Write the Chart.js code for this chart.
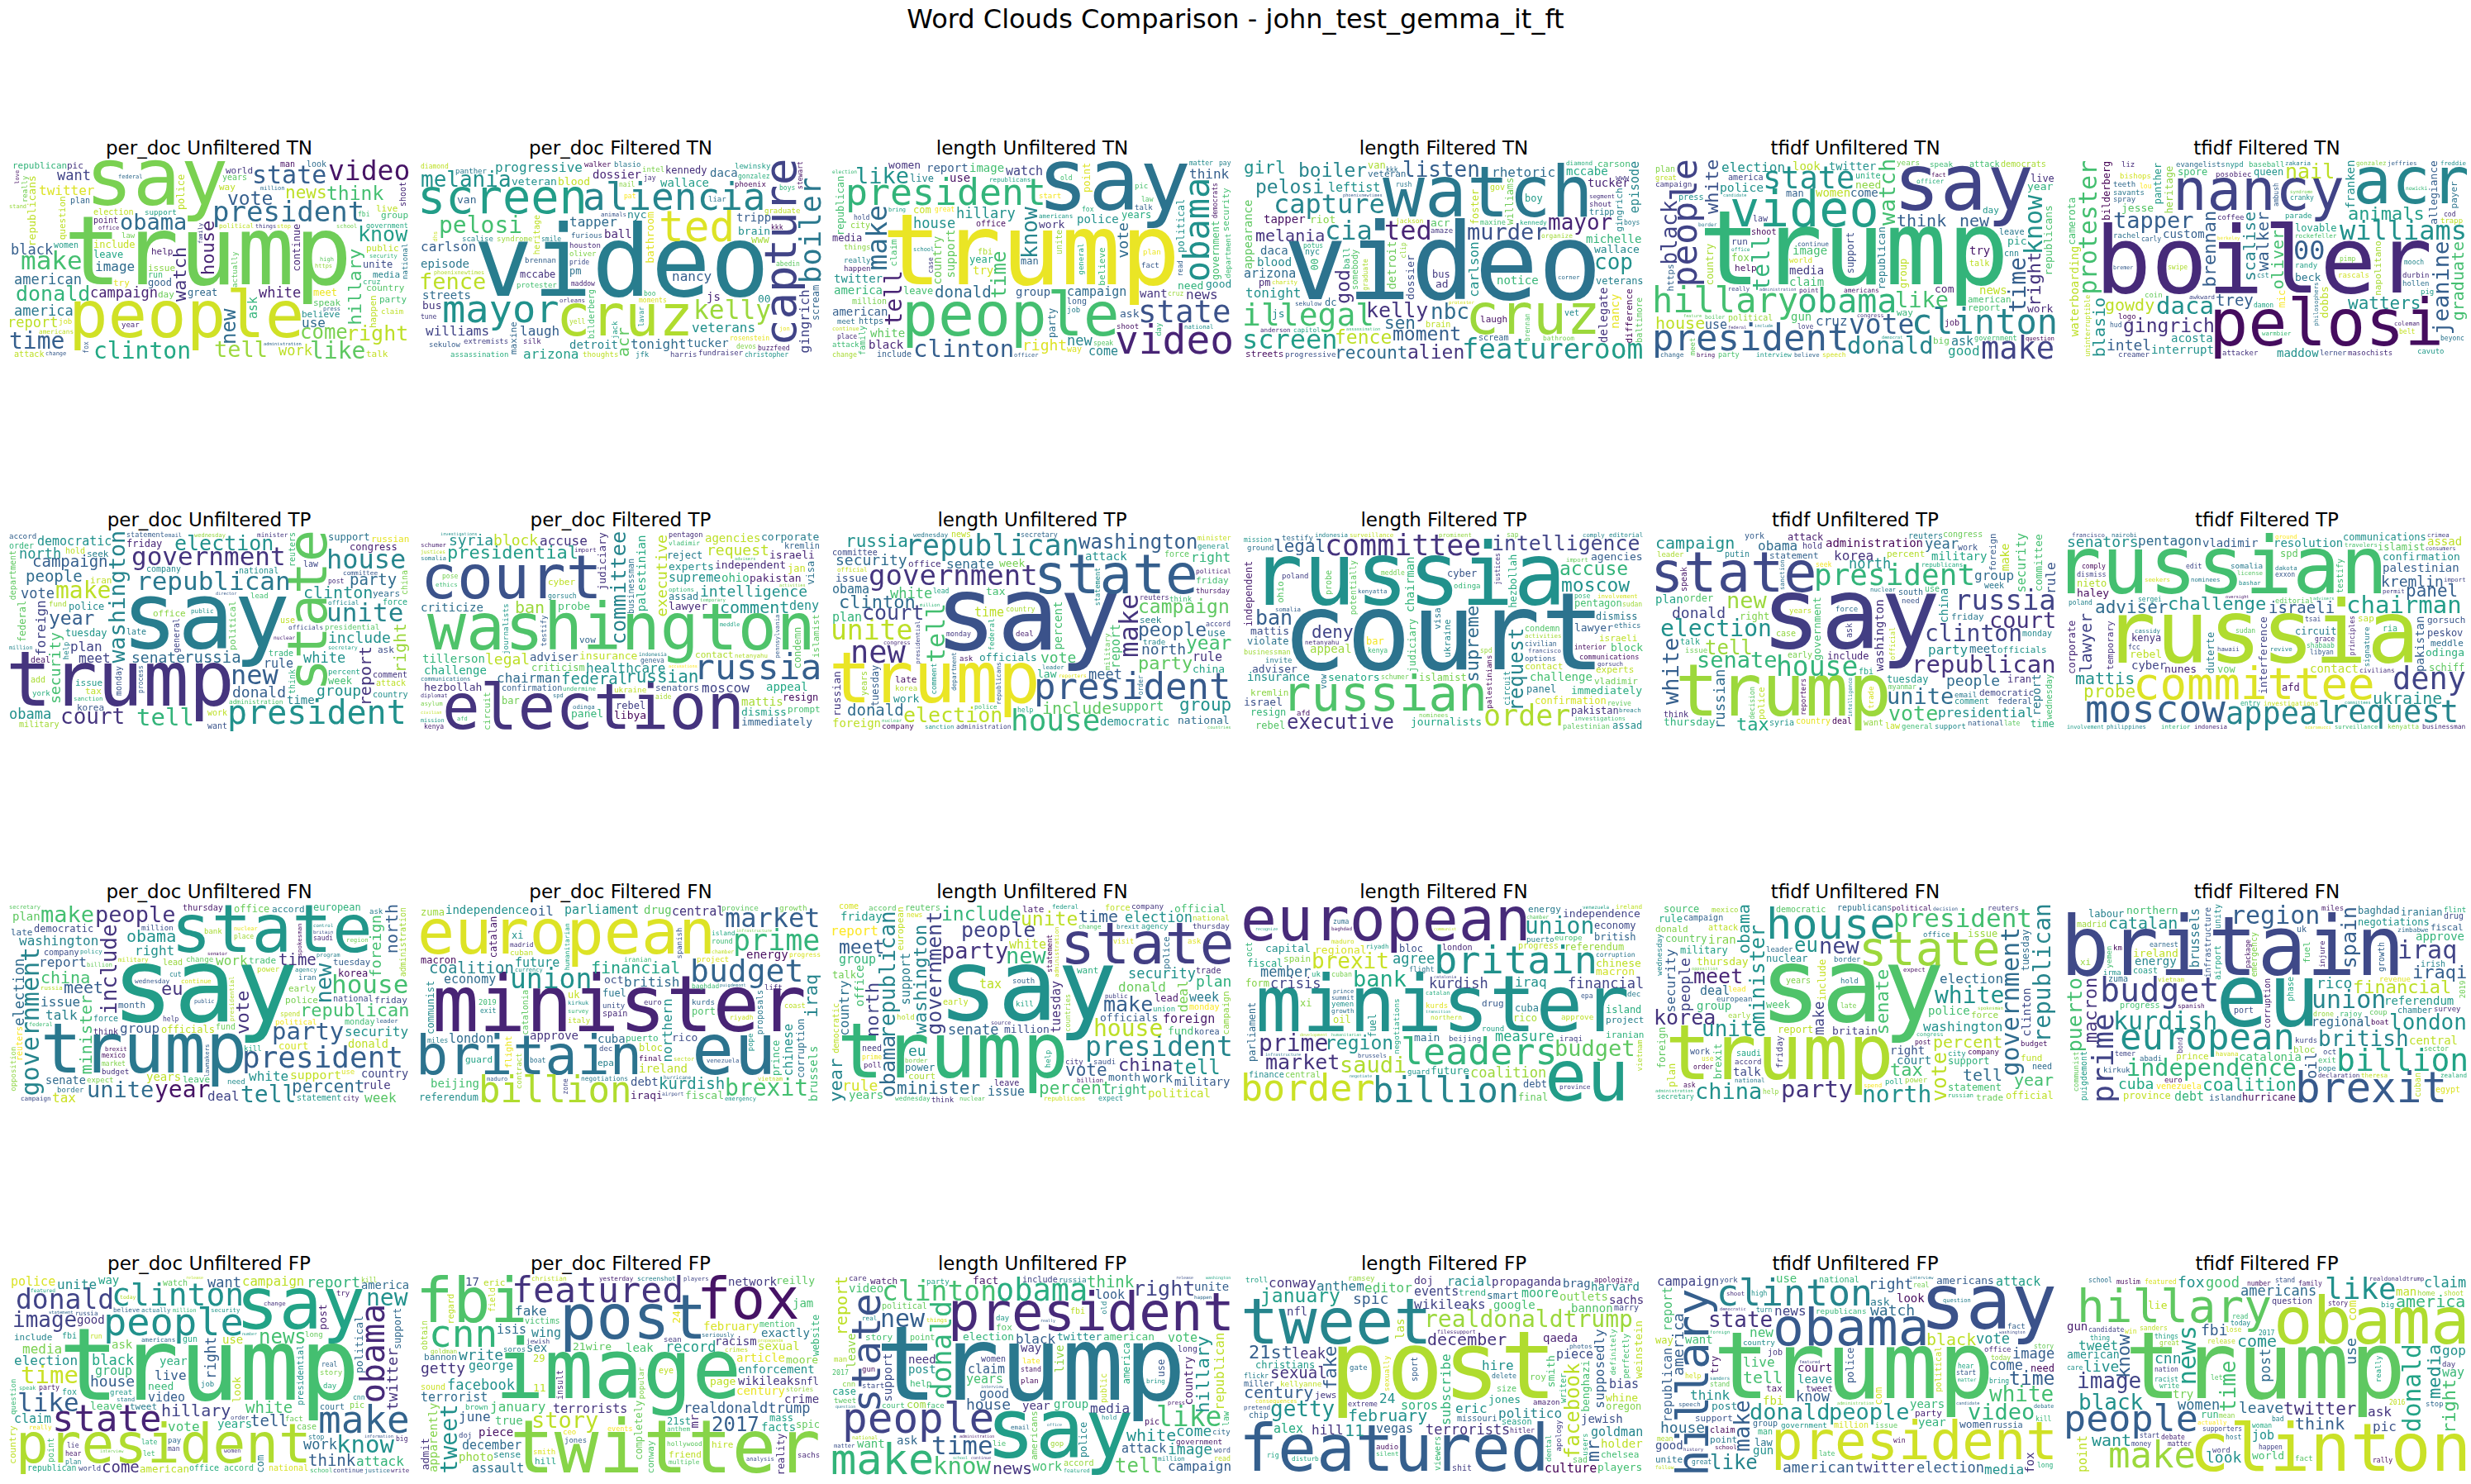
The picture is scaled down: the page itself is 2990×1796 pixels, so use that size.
<!DOCTYPE html>
<html lang="en">
<head>
<meta charset="UTF-8">
<title>Word Clouds Comparison - john_test_gemma_it_ft</title>
<script src="https://cdn.jsdelivr.net/npm/chart.js"></script>
<style>
    body {
        margin: 0;
        background: #ffffff;
        width: 2990px;
        height: 1796px;
        position: relative;
        overflow: hidden;
        font-family: "DejaVu Sans", sans-serif;
    }
    .suptitle {
        position: absolute;
        left: 0;
        top: 5px;
        width: 2990px;
        text-align: center;
        font-size: 32px;
        line-height: 36px;
        color: #000;
    }
    .panel-title {
        position: absolute;
        text-align: center;
        font-size: 23px;
        line-height: 26px;
        color: #000;
        white-space: nowrap;
    }
    .panel { position: absolute; }
</style>
</head>
<body>
<div class="suptitle">Word Clouds Comparison - john_test_gemma_it_ft</div>
<div id="grid"></div>
<script>
// ---- word weights (bigger = more frequent) ----

// per_doc / TN
const words_pdU_TN = ['trump','say','people','president','video','make','state','clinton','like','time',
    'obama','tell','right','donald','know','come','new','vote','think','hillary',
    'house','watch','news','campaign','report','white','american','black','america','want',
    'work','twitter','image','use','ask','republicans','continue','police','happen','question',
    'meet','good','include','unite','leave','great','believe','speak','issue','group',
    'women','years','try','live','public','talk','pic','help','world','republican',
    'country','day','way','media','party','election','attack','government','point','americans',
    'support','political','plan','man','look','run','cruz','job','law','claim',
    'shoot','national','really','actually','year','fbi','fox','family','love','school',
    'administration','things','security','federal','million','change','stand','office','https','stop',
    'high','press'];
const weights_pdU_TN = [116,96,79,34,33,31,30,28,28,28, 27,27,25,25,25,24,24,23,23,22,
    22,22,21,17,17,17,17,17,17,17, 17,16,16,16,15,13,12,12,11,11, 12,12,12,12,12,12,11,11,11,11,
    10,10,11,11,11,11,11,11,11,11, 11,11,11,11,11,11,11,10,10,10, 10,10,10,10,10,10,9,9,9,9,
    10,9,9,9,9,8,8,7,7,7, 7,7,7,7,7,7,7,7,7,7, 7,7];

const words_pdF_TN = ['video','cruz','screen','capture','aliencia','ted','mayor','boiler','kelly','pelosi',
    'fence','melania','acr','tonight','progressive','arizona','veterans','carlson','tapper','nancy',
    'williams','gingrich','laugh','episode','streets','veteran','tucker','dossier','ball','daca',
    'wallace','bathroom','brain','blood','bus','van','tripp','js','detroit','mccabe',
    'kennedy','scream','nyc','00','pm','www','maxine','heritage','bilderberg','jack',
    'intel','liar','harris','phoenix','assassination','thoughts','protester','walker','furious','diamond',
    'panther','tune','moments','extremists','syndrome','graduate','devos','jfk','houston','blasio',
    'lewinsky','oliver','brennan','scalise','fundraiser','silk','sekulow','pat','smile','yell',
    'rosenstein','christopher','phoenixnewtimes','abedin','gonzalez','boo','nail','kkk','pride','buzzfeed',
    'jay','orleans','boys','maddow','animals','lavar','stewart','jon','dhs'];
const weights_pdF_TN = [119,69,57,54,50,51,47,42,34,28, 27,26,20,16,16,16,16,16,16,16,
    16,16,16,14,14,13,14,14,14,14, 14,13,13,13,13,13,14,14,14,12, 12,12,13,13,12,12,11,10,10,9,
    9,9,9,9,9,9,9,9,9,8, 9,8,8,9,9,9,8,9,9,9, 9,9,9,9,9,9,9,8,8,8,
    8,8,8,8,8,8,8,8,8,8, 8,8,8,8,8,8,8,7,7];

const words_lnU_TN = ['trump','say','people','president','state','video','obama','make','tell','clinton',
    'like','know','time','donald','right','house','new','hillary','vote','campaign',
    'news','think','watch','come','image','women','want','group','report','white',
    'twitter','police','try','use','black','american','america','leave','live','work',
    'media','years','support','republican','security','point','government','political','country','claim',
    'believe','good','need','ask','com','party','year','man','long','office',
    'fbi','city','https','family','include','million','unite','talk','attack','plan',
    'fact','department','republicans','way','things','job','day','pic','happen','really',
    'democrats','speak','shoot','case','americans','matter','national','law','fox','start',
    'hold','place','read','continue','election','general','cruz','old','great','meet',
    'change','pay','bring','officer','school'];
const weights_lnU_TN = [120,103,73,53,48,52,42,33,28,29, 27,26,24,19,18,17,17,17,18,15,
    16,16,15,15,14,13,14,14,14,14, 14,14,14,14,14,14,14,12,12,13, 12,12,14,12,11,12,12,12,14,11,
    11,13,13,13,12,12,12,12,10,10, 10,10,10,10,10,10,10,9,9,9, 9,9,9,10,9,9,9,9,9,9,
    8,8,9,8,9,8,8,8,8,9, 8,8,8,8,8,9,8,8,8,9, 9,8,7,7,7];

const words_lnF_TN = ['video','watch','cruz','illegal','feature','capture','room','screen','ted','cia',
    'murder','listen','nbc','mayor','kelly','cop','fence','moment','pelosi','alien',
    'boiler','god','recount','girl','sen','melania','carlson','tonight','rhetoric','arizona',
    'leftist','episode','appearance','michelle','tapper','blood','daca','mccabe','tucker','delegate',
    'detroit','nancy','notice','wallace','veterans','progressive','dossier','ad','js','acr',
    'riot','baltimore','difference','williams','gingrich','somebody','foster','veteran','streets','dc',
    'boy','pm','laugh','00','organize','bus','van','jackson','carson','brain',
    'ball','bathroom','scream','tripp','maxine','kennedy','vet','gov','capitol','nyc',
    'www','amaze','shout','sekulow','diamond','anderson','potus','charity','protester','phoenixnewtimes',
    'kkk','rush','clip','graduate','brennan','segment','assassination','boys','corner'];
const weights_lnF_TN = [128,100,68,38,34,32,33,32,32,32, 27,26,26,26,25,26,23,23,23,23,
    23,23,21,21,21,20,16,16,16,15, 15,15,14,14,14,14,14,14,14,14, 14,14,14,13,13,13,13,13,13,13,
    13,12,13,13,12,12,12,12,12,12, 12,12,12,12,11,12,12,11,12,11, 11,11,11,11,11,10,10,10,10,10,
    9,9,9,9,9,9,8,8,8,8, 8,8,8,8,8,8,8,8,8];

const words_tfU_TN = ['trump','say','video','president','hillary','people','clinton','obama','state','make',
    'donald','vote','know','tell','time','like','watch','black','right','white',
    'think','house','new','election','cruz','good','twitter','police','ask','republican',
    'republicans','image','political','try','claim','media','use','american','news','women',
    'campaign','gun','look','come','america','man','country','speak','democrats','shoot',
    'report','attack','work','com','pic','need','year','live','support','unite',
    'press','officer','help','leave','government','world','group','talk','continue','years',
    'big','way','run','really','day','point','plan','believe','great','https',
    'interview','change','party','question','law','job','cnn','fox','meet','speech',
    'americans','democrat','boiler','candidate','border','office','national','love','feature','administration',
    'include','federal','congress','fact','bring','million','actually'];
const weights_tfU_TN = [125,94,60,44,42,43,42,40,37,37, 29,33,30,28,28,27,27,26,22,22,
    20,20,20,16,16,16,16,16,15,15, 14,14,14,14,14,14,15,14,14,14, 14,14,14,14,13,12,12,12,12,12,
    13,13,13,13,13,13,13,13,12,12, 12,12,12,12,12,12,12,12,12,11, 11,11,11,12,11,11,10,11,11,11,
    11,11,11,11,10,10,10,12,9,12, 12,8,8,8,8,8,8,8,8,8, 8,8,8,8,8,8,8];

const words_tfF_TN = ['boiler','pelosi','acr','nancy','jeanine','williams','protester','daca','00','tapper',
    'nail','gingrich','animals','brennan','watters','oliver','graduate','gowdy','walker','scalise',
    'blasio','trey','intel','acosta','waterboarding','allegiance','franken','interrupt','custom','maddow',
    'dobbs','beck','jesse','bilderberg','napolitano','heritage','camerota','mic','panther','queen',
    'lovable','spore','payer','cavuto','pig','logo','parade','randy','coffee','attacker',
    'baseball','lerner','rachel','spray','liz','rascals','savants','masochists','evangelists','rockefeller',
    'coin','teeth','bishops','posobiec','hollen','nypd','trapp','creamer','durbin','gonzalez',
    'uninterruptible','damon','lou','mooch','beyonc','cod','coleman','awkward','hud','cranky',
    'carly','zakaria','belt','cst','swipe','jeffries','freddie','warmbier','syndrome','berkeley',
    'nowicki','bremer','pimp','philosophers','ambush'];
const weights_tfF_TN = [113,101,78,69,27,32,30,29,32,27, 25,23,22,22,21,20,20,20,20,20,
    20,19,18,14,14,14,14,14,14,14, 13,13,13,13,12,12,12,12,12,12, 12,12,11,9,9,9,9,9,9,9,
    9,9,9,9,9,9,9,9,9,9, 9,9,9,9,9,9,9,9,9,9, 9,8,8,8,8,8,8,8,8,8,
    8,8,8,8,8,8,8,8,8,8, 8,8,8,8,8];

// per_doc / TP
const words_pdU_TP = ['say','trump','state','president','house','new','unite','republican','government','tell',
    'washington','make','court','election','year','clinton','report','right','people','russia',
    'party','campaign','include','security','senate','group','donald','north','white','obama',
    'vote','foreign','meet','plan','rule','democratic','time','tuesday','support','police',
    'week','congress','friday','federal','military','office','iran','issue','korea','seek',
    'political','russian','years','country','ask','tax','company','presidential','national','statement',
    'comment','officials','want','department','reuters','china','minister','late','order','add',
    'work','percent','administration','committee','trade','attack','official','secretary','deal','accord',
    'force','monday','general','hold','law','public','help','york','lead','fund',
    'wednesday','think','use','sanction','process','million','nuclear','director','post','email'];
const weights_pdU_TP = [113,92,65,40,32,32,31,31,31,29, 29,28,26,25,23,20,20,20,19,19,
    19,19,18,18,18,18,18,17,17,17, 17,16,16,16,15,15,14,12,12,12, 12,12,12,12,11,11,11,11,11,11,
    11,11,11,11,11,11,10,10,10,10, 10,10,10,10,10,10,10,10,10,10, 10,10,10,10,10,10,10,10,10,10,
    10,10,10,10,10,9,9,9,9,9, 9,10,10,8,8,8,8,8,8,7];

const words_pdF_TP = ['washington','election','court','russia','committee','presidential','russian','comment','executive','ban',
    'federal','intelligence','syria','request','block','legal','chairman','accuse','moscow','healthcare',
    'deny','supreme','tillerson','challenge','appeal','mattis','criticize','palestinian','ohio','experts',
    'independent','insurance','panel','dismiss','agencies','judiciary','adviser','immediately','hezbollah','pakistan',
    'corporate','criticism','libya','probe','israeli','lawyer','confirmation','senators','reject','contact',
    'rebel','resign','kremlin','bar','vladimir','jan','journalists','condemn','businessman','visa',
    'ukraine','pentagon','assad','islamist','circuit','vow','cyber','prompt','communications','testify',
    'gorsuch','netanyahu','geneva','schumer','options','undermine','activities','accusations','investigations','diplomat',
    'indonesia','somalia','kenya','asylum','aide','pose','odinga','justices','temporary','mission',
    'import','ethics','civilian','meddle','advisers','pennsylvania','spd','afd'];
const weights_pdF_TP = [78,76,73,43,30,22,21,20,20,20, 19,18,18,18,18,18,16,16,16,16,
    15,15,14,14,14,14,14,14,14,13, 13,13,13,13,14,13,14,13,13,13, 13,13,13,13,13,13,12,12,12,12,
    12,12,12,12,12,12,12,12,12,12, 12,12,12,11,11,11,11,11,10,9, 9,8,8,8,8,8,8,8,8,8,
    8,8,8,8,8,8,8,8,8,8, 8,8,8,8,8,8,7,7];

const words_lnU_TP = ['say','trump','state','president','new','house','republican','government','unite','make',
    'tell','election','washington','court','campaign','people','clinton','party','year','russia',
    'group','include','donald','security','north','vote','meet','white','senate','right',
    'plan','time','support','rule','obama','report','foreign','percent','attack','democratic',
    'officials','russian','issue','week','national','presidential','military','tuesday','china','tax',
    'administration','law','work','committee','statement','use','thursday','friday','political','late',
    'office','seek','federal','general','company','news','minister','country','force','reuters',
    'wednesday','republicans','department','years','official','monday','korea','deal','trade','think',
    'comment','accord','ask','police','secretary','sanction','reporters','help','leader','intelligence',
    'countries','nuclear','congress','lead','million','order'];
const weights_lnU_TP = [125,85,66,44,37,36,35,34,33,32, 30,25,24,25,23,23,22,22,23,21,
    21,20,19,18,18,18,17,17,16,16, 15,15,15,15,15,15,14,14,14,14, 14,13,13,13,13,13,12,13,13,13,
    13,13,13,13,12,12,11,11,11,11, 11,11,11,10,10,10,10,10,10,10, 10,10,10,10,9,9,9,9,9,9,
    9,9,9,9,9,8,8,8,8,8, 8,8,8,8,8,8];

const words_lnF_TP = ['court','russia','russian','committee','order','intelligence','executive','accuse','moscow','ban',
    'request','supreme','legal','deny','challenge','insurance','chairman','appeal','agencies','lawyer',
    'mattis','israel','immediately','journalists','adviser','senators','block','confirmation','assad','pentagon',
    'panel','rebel','pakistan','cyber','violate','resign','bar','communications','dismiss','islamist',
    'palestinian','hezbollah','independent','judiciary','businessman','kremlin','vladimir','israeli','experts','contact',
    'condemn','visa','ukraine','ohio','circuit','vow','potentially','probe','testify','invite',
    'poland','ethics','netanyahu','editorial','palestinians','ground','afd','odinga','options','schumer',
    'involvement','investigations','activities','civilian','revive','indonesia','kenya','mission','sap','spd',
    'interior','somalia','meddle','francisco','nominees','prominent','comply','breach','surveillance','gorsuch',
    'kenyatta','sudan','import','pose','justices'];
const weights_lnF_TP = [130,125,59,38,35,27,24,23,23,25, 24,22,21,21,14,14,14,14,13,13,
    13,13,13,13,13,13,13,12,12,12, 12,12,12,12,12,12,12,12,12,12, 12,12,12,12,11,11,11,11,11,11,
    11,11,11,11,10,10,10,10,9,9, 9,9,9,9,9,9,9,9,9,8, 8,8,8,8,8,8,8,8,8,8,
    8,8,8,8,8,8,8,8,8,8, 8,8,8,8,8];

const words_tfU_TP = ['say','trump','state','president','russia','house','republican','clinton','election','senate',
    'unite','court','new','white','washington','vote','government','russian','tell','tax',
    'campaign','donald','people','north','year','korea','obama','presidential','party','group',
    'rule','security','plan','report','committee','china','meet','administration','military','foreign',
    'make','attack','thursday','right','order','time','tuesday','include','iran','police',
    'wednesday','officials','percent','friday','statement','democratic','early','work','south','federal',
    'putin','syria','monday','reuters','country','think','congress','week','talk','deal',
    'case','hold','want','use','fbi','comment','ask','speak','york','law',
    'leader','trade','official','reporters','decision','sanction','intelligence','need','issue','years',
    'general','support','national','force','republicans','email','myanmar','nuclear','late','seek'];
const weights_tfU_TP = [120,87,67,36,34,33,29,28,28,27, 27,27,27,27,26,25,25,24,24,22,
    20,18,18,17,17,16,16,16,16,16, 16,15,14,14,14,14,14,14,14,14, 14,12,13,12,12,12,12,12,12,11,
    11,11,11,11,11,11,10,10,10,10, 10,10,10,10,10,10,10,10,10,10, 10,10,10,10,10,10,10,10,10,10,
    9,9,9,9,9,9,10,9,9,9, 9,9,9,9,9,9,8,8,8,8];

const words_tfF_TP = ['russia','russian','committee','moscow','appeal','request','deny','chairman','challenge','adviser',
    'probe','panel','mattis','ukraine','israeli','lawyer','senators','kremlin','pentagon','assad',
    'vladimir','cyber','palestinian','contact','pakistan','resolution','interference','confirmation','communications','gorsuch',
    'odinga','islamist','rebel','nunes','circuit','haley','corporate','duterte','editorial','schiff',
    'peskov','kenya','vow','meddle','nieto','spd','afd','civilians','temporary','businessman',
    'philippines','investigations','sap','kenyatta','somalia','surveillance','dismiss','testify','ria','signature',
    'edit','sergei','libyan','tsai','comply','shabaab','grace','entry','indonesia','poland',
    'sudan','seekers','nominees','interior','dakota','crimea','francisco','exxon','revive','travelers',
    'bashar','nairobi','license','cassidy','ground','involvement','permit','hawaii','committees','palestinians',
    'oversight','scaramucci','principles','import','consumers','advisers','civilian','fcc'];
const weights_tfF_TP = [106,96,54,47,37,37,37,29,22,21, 21,21,20,20,19,20,18,18,16,14,
    14,14,14,14,14,14,13,13,13,13, 13,13,13,13,13,13,12,12,12,12, 12,12,12,12,12,12,12,12,11,11,
    11,11,11,11,11,11,10,10,10,9, 8,8,8,8,8,8,8,8,8,8, 8,8,8,8,8,8,8,8,8,8,
    8,8,8,8,8,8,8,8,8,8, 8,8,8,8,8,8,8,8];

// per_doc / FN
const words_pdU_FN = ['say','trump','state','president','house','government','party','tell','unite','people',
    'year','new','make','include','eu','republican','vote','percent','meet','obama',
    'minister','china','north','time','foreign','election','washington','right','security','white',
    'report','week','tax','support','issue','deal','country','talk','group','work',
    'senate','donald','tuesday','years','plan','rule','democratic','police','office','friday',
    'korea','officials','european','court','thursday','monday','early','political','company','month',
    'late','trade','leave','national','reuters','administration','statement','change','fund','lead',
    'million','wednesday','accord','force','think','budget','expect','bank','continue','opposition',
    'presidential','border','campaign','military','kill','ask','use','need','iran','secretary',
    'mexico','market','international','leader','spokesman','lawmakers','power','spend','place','cut',
    'billion','agency','help','federal','nuclear','program','policy','russia','brexit','region',
    'saudi','britain','senator','control','public','city'];
const weights_pdU_FN = [125,83,81,36,31,30,29,28,27,27, 28,27,27,26,22,22,22,21,20,20,
    20,20,20,19,18,17,16,16,16,16, 16,16,16,16,16,16,16,16,16,16, 16,16,15,14,14,14,12,12,12,12,
    12,12,12,12,12,11,11,11,11,11, 11,11,11,11,10,10,10,10,10,10, 10,10,11,10,10,10,9,9,9,9,
    9,9,9,9,9,9,9,9,9,9, 8,8,8,8,8,8,9,8,8,8, 8,8,8,8,8,8,8,8,8,8, 8,8,8,8,8,8];

const words_pdF_FN = ['minister','eu','european','britain','billion','budget','prime','union','market','brexit',
    'iraq','financial','coalition','kurdish','british','economy','chinese','london','northern','oil',
    'central','parliament','future','independence','approve','beijing','cuba','ireland','drug','iraqi',
    'corruption','brussels','debt','fiscal','referendum','energy','province','puerto','macron','rico',
    'oct','guard','spain','project','baghdad','growth','prince','negotiations','communist','catalan',
    'humanitarian','catalonia','cuban','island','uk','final','iranian','riyadh','kurds','venezuela',
    'zuma','progress','xi','port','fuel','bloc','flight','hurricane','madrid','coast',
    'round','epa','infrastructure','miles','proposals','vietnam','emergency','contract','survey','maduro',
    'chamber','italy','euro','unity','kirkuk','sector','lift','currency','dec','spanish',
    'pope','exit','boat','airport','puigdemont','zone','2019'];
const weights_pdF_FN = [94,85,75,65,52,38,35,33,32,28, 22,20,19,19,16,15,15,15,16,16,
    15,15,15,14,14,14,14,14,14,14, 13,14,14,13,13,14,13,13,13,13, 13,13,13,13,13,13,12,12,12,12,
    12,12,12,12,12,12,12,12,12,12, 12,12,12,12,13,12,11,11,11,11, 11,11,10,10,10,10,9,9,9,9,
    9,9,9,9,9,9,9,9,9,9, 9,8,8,8,8,8,9];

const words_lnU_FN = ['say','trump','state','president','government','republican','party','house','people','make',
    'new','tell','obama','meet','include','unite','year','washington','north','vote',
    'china','minister','percent','time','eu','rule','plan','election','security','senate',
    'donald','report','deal','country','week','issue','group','work','foreign','tax',
    'right','white','years','tuesday','support','military','friday','political','office','month',
    'officials','fund','official','million','administration','campaign','european','democratic','thursday','lead',
    'monday','national','power','force','korea','trade','early','wednesday','reuters','court',
    'talk','want','company','leave','accord','late','police','statement','countries','come',
    'need','help','agency','expect','poll','border','south','public','brexit','union',
    'saudi','federal','billion','hold','kill','ask','think','visit','change','republicans',
    'city','nuclear','prime','news','source'];
const weights_lnU_FN = [120,93,70,33,32,28,27,28,25,25, 27,24,25,23,23,23,22,22,22,21,
    22,21,21,20,18,18,18,17,17,17, 16,16,16,16,15,15,15,15,15,15, 15,15,14,15,15,14,14,14,14,13,
    13,13,13,13,12,12,12,12,12,12, 12,12,12,12,12,12,12,12,12,12, 12,11,11,11,11,11,11,11,10,10,
    10,9,9,9,9,9,9,9,9,9, 9,9,9,9,9,9,9,9,9,9, 9,8,8,8,8];

const words_lnF_FN = ['minister','eu','european','britain','leaders','border','billion','union','prime','bank',
    'budget','saudi','brexit','market','region','coalition','crisis','agree','kurdish','financial',
    'member','measure','iraq','capital','future','macron','main','independence','regional','chinese',
    'bloc','rico','oil','referendum','fiscal','british','debt','economy','progress','island',
    'iranian','project','energy','beijing','final','spain','xi','london','form','puerto',
    'central','finance','corruption','cuba','northern','drug','brussels','iraqi','approve','europe',
    'parliament','negotiations','fuel','flight','province','infrastructure','oct','vietnam','venezuela','guard',
    'maduro','ireland','catalan','recognize','negotiate','round','dec','riyadh','transition','kurds',
    'growth','uk','yemen','chamber','summit','prince','cuban','baghdad','humanitarian','development',
    'communist','catalonia','zuma','epa'];
const weights_lnF_FN = [94,85,73,47,45,45,42,28,28,27, 27,27,26,25,23,17,17,17,17,17,
    17,17,16,13,13,13,13,13,13,13, 12,12,12,12,12,12,12,12,12,12, 12,12,12,12,12,12,12,12,12,12,
    12,12,12,12,12,12,12,12,12,12, 12,12,12,10,10,10,10,9,9,9, 9,9,9,9,9,9,9,9,9,9,
    9,9,9,9,9,9,9,9,9,9, 9,9,8,8];

const words_tfU_FN = ['say','trump','state','house','president','government','republican','party','north','white',
    'china','unite','new','korea','meet','vote','minister','eu','senate','obama',
    'year','tax','percent','tell','people','make','security','election','washington','deal',
    'court','police','group','iran','talk','right','clinton','thursday','britain','support',
    'issue','report','source','include','brexit','tuesday','foreign','statement','official','plan',
    'nuclear','military','rule','country','donald','trade','fund','force','wednesday','friday',
    'week','attack','campaign','republicans','need','years','democratic','work','budget','poll',
    'lead','leader','city','mexico','border','early','hold','office','political','saudi',
    'reuters','european','administration','secretary','power','national','accord','company','spokesman','opposition',
    'decision','russian','congress','help','late','use','post','expect','order','spend','ask'];
const weights_tfU_FN = [124,118,57,52,31,30,28,29,28,28, 27,26,27,25,25,25,25,24,22,20,
    20,22,20,20,18,17,16,16,16,15, 14,14,14,14,14,14,14,13,13,12, 12,12,12,12,12,12,12,12,12,12,
    12,12,12,12,11,11,11,11,11,11, 12,10,10,10,10,10,10,10,9,9, 9,9,9,9,9,9,9,9,9,10,
    9,9,9,9,9,9,9,9,8,8, 8,8,8,8,8,8,8,8,8,8,8];

const words_tfF_FN = ['eu','britain','brexit','european','budget','billion','prime','independence','kurdish','region',
    'union','iraq','british','london','spain','puerto','iraqi','financial','macron','coalition',
    'catalan','cuba','oil','rico','brussels','regional','debt','energy','central','referendum',
    'catalonia','approve','northern','ireland','negotiations','hurricane','labour','infrastructure','province','baghdad',
    'iranian','venezuela','fiscal','corruption','island','xi','progress','prince','bloc','fuel',
    'emergency','phase','growth','unity','airport','puigdemont','chamber','zimbabwe','zuma','egypt',
    'madrid','communist','cuban','drug','uk','coast','port','irish','spanish','declaration',
    'revenue','coup','survey','rajoy','flint','kurds','kirkuk','euro','abadi','oct',
    'vietnam','zealand','miles','havana','earnest','temer','pope','drone','boat','sector',
    'km','theresa','exit','irma','yemen','bond','package','injure','2019'];
const weights_tfF_FN = [105,99,51,44,40,38,36,31,30,30, 30,30,26,26,25,25,22,22,22,21,
    20,18,18,18,15,15,15,14,14,14, 14,14,13,13,12,12,12,12,12,12, 12,12,11,11,11,11,11,11,11,11,
    10,10,10,10,10,10,10,10,10,10, 10,9,10,10,10,10,10,10,10,9, 9,9,9,9,9,9,9,9,9,9,
    9,9,9,9,9,9,9,9,9,9, 9,9,9,9,9,8,9,9,9];

// per_doc / FP
const words_pdU_FP = ['trump','say','president','people','make','state','obama','clinton','donald','like',
    'time','know','new','image','news','hillary','white','think','tell','campaign',
    'report','come','twitter','house','right','work','black','want','live','video',
    'america','vote','unite','election','years','media','attack','american','political','republican',
    'group','police','claim','ask','good','use','year','way','look','support',
    'country','post','need','leave','com','presidential','include','tweet','fbi','case',
    'watch','fox','gun','accord','court','national','office','pic','point','americans',
    'fact','story','job','great','long','day','pay','really','world','school',
    'party','question','lie','real','actually','try','russia','stand','believe','continue',
    'order','cnn','justice','stop','late','write','kill','hear','plan','security',
    'change','featured','let','million','big','man','run','speak','women','information',
    'interview','release','statement','today','number'];
const weights_pdU_FP = [121,87,66,47,46,44,40,38,33,31, 29,29,28,26,24,20,19,19,19,17,
    18,19,18,18,17,17,17,17,16,15, 15,16,16,16,14,16,16,16,14,15, 15,15,15,14,14,14,14,14,13,13,
    13,13,13,13,12,11,11,11,10,10, 10,10,10,10,10,10,10,10,10,9, 9,9,9,9,9,9,9,9,9,9,
    9,9,8,8,8,9,9,8,9,9, 8,8,8,8,8,8,8,8,8,8, 8,8,8,8,8,8,8,8,8,8, 8,7,7,7,7];

const words_pdF_FP = ['image','twitter','fbi','post','fox','featured','cnn','tweet','story','2017',
    'realdonaldtrump','write','getty','record','facebook','fake','june','january','george','terrorist',
    'terrorists','december','isis','wing','assault','facts','photo','century','exactly','february',
    'wikileaks','racism','enforcement','sex','piece','crime','leak','true','jam','article',
    'apparently','17','mr','admit','sexual','network','reilly','21wire','victims','mention',
    '24','moore','page','11','hollywood','mass','friend','nfl','bannon','christian',
    '21st','spic','29','reality','completely','website','conway','seriously','hire','eric',
    'players','stories','hill','regard','sense','events','sound','brown','jewish','crimes',
    'multiple','screenshot','popular','insult','obtain','field','eye','anthem','yesterday','ceo',
    'jones','doj','sean','analysis','smith','goldman','sachs','soros','propaganda'];
const weights_pdF_FP = [99,97,75,74,69,47,46,28,27,24, 17,18,18,17,17,16,16,16,15,15,
    15,15,15,15,15,14,14,14,14,14, 14,14,14,14,14,14,14,14,14,14, 14,14,14,13,14,14,13,13,13,13,
    13,13,13,13,12,12,12,12,12,12, 12,12,12,12,12,12,12,11,11,11, 11,11,11,11,12,10,10,10,10,10,
    10,10,10,10,10,10,10,10,9,9, 9,9,9,9,9,9,9,9,9];

const words_lnU_FP = ['trump','say','president','make','people','state','obama','clinton','like','donald',
    'time','know','new','hillary','right','tell','report','white','news','think',
    'house','image','come','republican','media','campaign','black','claim','attack','look',
    'work','good','years','vote','election','group','want','year','twitter','video',
    'american','need','unite','fact','way','post','ask','live','leave','support',
    'country','com','police','america','political','include','story','case','accord','government',
    'use','americans','help','point','watch','fox','million','women','fbi','russia',
    'court','featured','law','public','pic','long','start','party','cnn','plan',
    'day','tweet','late','stand','face','old','city','lie','email','2017',
    'administration','bring','washington','national','matter','word','read','things','care','interview',
    'gun','happen','gop','really','question','press','continue','hold','school','real',
    'release','office','man'];
const weights_lnU_FP = [125,99,64,52,51,48,37,33,33,33, 31,29,30,24,25,24,20,20,20,19,
    18,18,18,17,16,16,16,15,15,15, 15,15,15,15,14,14,14,14,14,14, 14,14,14,13,14,14,14,14,14,14,
    14,13,12,12,12,12,12,12,12,12, 12,11,11,11,11,11,10,10,10,11, 10,10,10,10,10,10,9,10,9,9,
    9,9,9,9,9,9,9,9,9,9, 9,9,9,9,9,9,9,9,9,9, 9,9,9,9,9,9,9,9,9,9, 9,9,9];

const words_lnF_FP = ['post','featured','tweet','realdonaldtrump','getty','facebook','january','fake','mr','21st',
    'december','century','february','11','sexual','terrorists','leak','spic','wikileaks','hill',
    '24','supposedly','subscribe','politico','conway','anthem','eric','hire','editor','events',
    'racial','bias','vegas','culture','alex','soros','moore','goldman','piece','propaganda',
    'las','qaeda','google','jewish','bannon','outlets','brag','holder','sachs','harvard',
    'players','nfl','benghazi','weinstein','smith','jones','whine','smart','doj','christians',
    'oregon','definitely','perfectly','kellyanne','missouri','chelsea','roy','apologize','extreme','trend',
    'miller','season','jews','sad','marry','chip','size','sport','viewers','shit',
    'disturb','writer','amazon','delete','pretend','hitler','audio','dental','sexually','flickr',
    'troll','silent','ramsey','gate','filessupport','photos','consequences','users','apology','rig'];
const weights_lnF_FP = [114,78,77,28,26,24,23,22,22,22, 20,20,20,20,19,17,17,18,16,16,
    16,16,16,16,16,16,16,16,16,15, 15,15,15,15,15,15,15,15,15,14, 14,14,14,14,14,14,14,14,14,14,
    14,14,13,13,13,13,13,13,13,12, 12,11,11,11,11,11,11,11,11,11, 11,11,11,10,10,10,10,10,10,10,
    10,10,9,9,9,9,9,9,9,9, 9,9,9,9,9,9,9,9,9,8];

const words_tfU_FP = ['trump','say','president','obama','hillary','clinton','video','people','donald','state',
    'white','make','like','time','black','tell','america','watch','house','right',
    'american','twitter','image','campaign','election','vote','know','come','news','media',
    'new','live','think','republican','report','attack','fox','want','year','years',
    'support','use','look','court','leave','americans','good','gun','fbi','country',
    'party','republicans','post','women','ask','way','claim','point','police','try',
    'com','need','tweet','law','political','national','russia','government','unite','tax',
    'million','job','group','man','fact','issue','york','office','question','today',
    'democratic','administration','speech','school','long','great','history','late','washington','real',
    'featured','high','story','mean','turn','bring','start','candidate','win','stand',
    'sanders','follow','interview','foreign','hear','debate','matter','kill','help','shoot'];
const weights_tfU_FP = [113,92,64,63,54,53,27,27,27,26, 26,26,24,23,20,20,18,18,18,18,
    18,17,17,17,17,17,17,17,16,16, 16,16,16,15,15,15,14,14,14,14, 14,14,14,14,14,14,14,14,14,14,
    14,13,13,13,13,12,12,12,12,12, 12,12,12,12,12,12,12,11,11,11, 10,10,10,10,9,9,9,9,9,8,
    8,8,8,8,8,8,8,8,8,8, 8,8,8,8,8,8,8,8,8,8, 8,8,8,8,8,8,8,8,8,8];

const words_tfF_FP = ['trump','clinton','obama','hillary','people','donald','make','like','news','time',
    'black','image','media','right','know','twitter','think','want','america','come',
    'fbi','look','cnn','fox','live','leave','use','americans','post','claim',
    'women','good','american','gop','tweet','pic','ask','job','way','point',
    'com','man','gun','try','world','lie','question','run','day','really',
    'fact','home','stop','big','word','school','number','bad','supporters','shoot',
    'happen','matter','family','candidate','start','care','2016','debate','rally','thing',
    'release','lose','win','mean','sanders','story','featured','muslim','nation','write',
    'actually','realdonaldtrump','racist','money','today','let','read','stand','woman','great',
    'things','host','2017'];
const weights_tfF_FP = [113,81,79,56,49,45,44,36,30,26, 26,26,22,22,22,21,20,20,20,20,
    18,18,18,18,18,18,18,17,17,17, 17,17,17,16,16,16,16,15,15,15, 14,14,14,14,13,13,12,12,9,9,
    9,9,9,9,9,8,8,8,8,8, 8,8,8,8,8,8,8,8,8,8, 8,8,8,8,8,8,8,8,8,8,
    8,8,8,8,8,8,8,8,8,8, 8,8,8];

// ---- panel grid ----
const methods = [['per_doc', 'pd'], ['length', 'ln'], ['tfidf', 'tf']];
const variants = [['Unfiltered', 'U'], ['Filtered', 'F']];
const outcomes = ['TN', 'TP', 'FN', 'FP'];

// ---- styling: rotated words and viridis shade (0..1) of the larger words ----
const uprightWords = {
    pdU_TN: ['hillary','house','watch','new','ask','republicans','continue','police','happen','question','shoot','national','really','actually','fox','family','love'],
    pdF_TN: ['capture','boiler','acr','gingrich','bathroom','scream','maxine','heritage','bilderberg','jack','lavar','stewart','dhs'],
    lnU_TN: ['make','obama','tell','know','time','vote','support','republican','security','point','government','political','country','claim','believe','party','family','day','department','unite','democrats','case','read','general'],
    lnF_TN: ['god','carlson','appearance','delegate','episode','baltimore','difference','williams','gingrich','somebody','foster','detroit','nancy','dossier','ball','00','clip','graduate','brennan'],
    tfU_TN: ['people','watch','tell','know','time','right','black','white','republicans','republican','country','support','group','https','meet'],
    tfF_TN: ['jeanine','protester','brennan','oliver','graduate','walker','scalise','blasio','waterboarding','allegiance','franken','dobbs','bilderberg','napolitano','heritage','camerota','mic','panther','payer','uninterruptible','philosophers','ambush'],
    pdU_TP: ['state','washington','report','right','security','foreign','federal','political','department','reuters','china','help','monday','general','process','think'],
    pdF_TP: ['committee','executive','palestinian','judiciary','visa','journalists','condemn','businessman','islamist','circuit','testify','pennsylvania'],
    lnU_TP: ['make','tell','report','percent','russian','presidential','military','tuesday','statement','federal','department','republicans','years','comment','order'],
    lnF_TP: ['supreme','request','chairman','hezbollah','visa','independent','potentially','judiciary','ukraine','probe','ohio','circuit','vow','justices','palestinians'],
    tfU_TP: ['white','washington','government','russian','rule','report','security','committee','china','foreign','make','ask','speak','reporters','decision','trade','official','police','wednesday','sanction','intelligence'],
    tfF_TP: ['lawyer','pakistan','interference','corporate','duterte','temporary','testify','signature','principles'],
    pdU_FN: ['government','new','include','vote','minister','north','foreign','election','reuters','opposition','presidential','administration','spokesman','lawmakers'],
    pdF_FN: ['iraq','chinese','northern','corruption','brussels','communist','catalan','humanitarian','catalonia','flight','proposals','contract','prince','spanish','pope','zone'],
    lnU_FN: ['government','republican','washington','north','obama','year','tuesday','support','country','deal','office','administration','campaign','european','democratic','countries','police','statement','help'],
    lnF_FN: ['parliament','negotiations','fuel','oct','vietnam'],
    tfU_FN: ['government','republican','minister','senate','people','vote','obama','make','security','clinton','include','brexit','tuesday','foreign','plan','wednesday','friday'],
    tfF_FN: ['prime','spain','puerto','macron','oil','brussels','infrastructure','corruption','emergency','phase','growth','unity','airport','puigdemont','fuel','communist','cuban','yemen','bond','package','injure','2019'],
    pdU_FP: ['obama','twitter','right','political','look','support','country','post','com','presidential','point','question'],
    pdF_FP: ['tweet','apparently','mr','admit','24','reality','completely','website','conway','regard','popular','insult','obtain','field'],
    lnU_FP: ['state','donald','hillary','report','republican','live','leave','support','country','police','america','americans','use','law','public','old'],
    lnF_FP: ['facebook','fake','mr','supposedly','subscribe','las','benghazi','weinstein','smith','definitely','perfectly','sport','viewers','writer','dental','sexually','users','apology'],
    tfU_FP: ['hillary','make','america','republican','report','fox','political','police','try','com'],
    tfF_FP: ['donald','news','time','media','right','know','use','post','point','com','really']
};

const wordTints = {
    pdU_TN: {trump:.78, say:.8, people:.93, president:.35, video:.05, make:.7, state:.3, clinton:.6, like:.75, time:.3, obama:.35, tell:.85, right:.9, donald:.65, know:.55, come:.8, new:.35, vote:.3, think:.7, hillary:.7, house:.1, watch:.15, news:.9, campaign:.1, report:.9, white:.1, american:.35, black:.3, america:.4, want:.2, work:.9, twitter:.95, image:.35, use:.35, ask:.65, republicans:.9, police:.9, happen:.9, question:.9, live:.9, public:.9, way:.9, election:.9, attack:.9, claim:.9, americans:.9, political:.9, actually:.75},
    pdF_TN: {video:.42, cruz:.88, screen:.55, capture:.2, aliencia:.45, ted:.95, mayor:.5, boiler:.4, kelly:.85, pelosi:.7, fence:.9, melania:.5, acr:.75, tonight:.35, progressive:.5, arizona:.55, veterans:.5, carlson:.3, tapper:.35, nancy:.3, williams:.2, gingrich:.2, laugh:.3, episode:.4, streets:.35, veteran:.5, tucker:.35, dossier:.1, daca:.35, wallace:.55, js:.1, detroit:.45, heritage:.9, bilderberg:.7, thoughts:.9, diamond:.9, graduate:.9, protester:.7},
    lnU_TN: {trump:.97, say:.38, people:.7, president:.65, state:.25, video:.1, obama:.5, make:.35, tell:.1, clinton:.3, like:.5, know:.45, time:.7, donald:.35, right:.95, house:.5, new:.45, hillary:.5, vote:.35, campaign:.35, news:.15, think:.3, watch:.2, come:.45, image:.7, women:.15, want:.15, group:.3, report:.3, white:.75, twitter:.5, police:.5, black:.1, american:.3, leave:.7, way:.95, point:.95, government:.7, republican:.7, security:.7, political:.5},
    lnF_TN: {video:.38, watch:.4, cruz:.85, illegal:.7, feature:.5, capture:.45, room:.55, screen:.55, ted:.1, cia:.45, murder:.25, listen:.3, nbc:.35, mayor:.1, kelly:.15, cop:.5, fence:.9, moment:.3, pelosi:.45, alien:.15, boiler:.45, god:.15, recount:.35, girl:.5, sen:.35, melania:.15, carlson:.5, tonight:.5, rhetoric:.35, arizona:.35, leftist:.5, appearance:.75, baltimore:.75, michelle:.65, foster:.9, brain:.9, jackson:.9, delegate:.15},
    tfU_TN: {trump:.65, say:.2, video:.55, president:.3, hillary:.7, people:.2, clinton:.45, obama:.65, state:.5, make:.2, donald:.45, vote:.3, know:.5, tell:.65, time:.3, like:.7, watch:.7, black:.2, right:.15, white:.25, think:.3, house:.9, new:.3, election:.5, cruz:.3, good:.55, twitter:.5, police:.5, image:.7, american:.7, news:.9, women:.9, group:.9, great:.9, report:.7, attack:.7, talk:.9},
    tfF_TN: {boiler:.12, pelosi:.03, acr:.45, nancy:.2, jeanine:.3, williams:.5, protester:.7, daca:.5, '00':.3, tapper:.3, nail:.9, gingrich:.15, animals:.55, brennan:.3, watters:.5, oliver:.7, graduate:.7, gowdy:.9, walker:.3, scalise:.45, blasio:.5, trey:.3, intel:.3, acosta:.5, waterboarding:.9, allegiance:.3, dobbs:.9, franken:.5, interrupt:.5, custom:.3, maddow:.5, trapp:.9},
    pdU_TP: {say:.42, trump:.15, state:.75, president:.5, house:.45, new:.3, unite:.45, republican:.4, government:.15, tell:.65, washington:.45, make:.9, court:.15, election:.5, year:.3, clinton:.5, report:.15, right:.85, people:.35, russia:.35, party:.35, campaign:.3, include:.5, security:.7, senate:.35, group:.5, donald:.3, north:.5, white:.5, obama:.5, vote:.3, foreign:.2, meet:.2, plan:.2, rule:.3, democratic:.5, federal:.75, political:.75, department:.75, attack:.9, work:.9, hold:.9, use:.9, trade:.65, order:.65, week:.7},
    pdF_TP: {washington:.72, election:.15, court:.25, russia:.3, committee:.45, presidential:.55, russian:.5, comment:.5, executive:.9, ban:.85, federal:.5, intelligence:.5, syria:.5, request:.9, block:.9, legal:.9, chairman:.35, accuse:.15, moscow:.2, healthcare:.5, deny:.5, supreme:.5, tillerson:.65, challenge:.6, appeal:.6, ohio:.65, insurance:.9, agencies:.9, hezbollah:.15, judiciary:.15, ukraine:.9, cyber:.9, prompt:.7, probe:.7, islamist:.75, circuit:.75},
    lnU_TP: {say:.25, trump:.97, state:.3, president:.28, new:.15, house:.65, republican:.45, government:.15, unite:.9, make:.15, tell:.7, election:.9, washington:.3, court:.2, campaign:.75, people:.3, clinton:.35, party:.75, year:.7, russia:.5, group:.5, include:.75, donald:.35, security:.35, north:.3, vote:.7, meet:.3, white:.7, senate:.35, right:.65, plan:.65, time:.9, support:.7, rule:.15, foreign:.9, report:.7, percent:.7, attack:.5, democratic:.5, officials:.5, tax:.7, friday:.7, news:.9, force:.75},
    lnF_TP: {court:.38, russia:.5, russian:.72, committee:.15, order:.88, intelligence:.2, executive:.15, accuse:.65, moscow:.5, ban:.3, request:.45, supreme:.35, legal:.3, deny:.2, challenge:.7, insurance:.5, chairman:.65, appeal:.85, agencies:.3, lawyer:.3, pentagon:.7, block:.7, israeli:.9, experts:.9, contact:.9, islamist:.8, palestinian:.75, potentially:.75, judiciary:.7, probe:.75},
    tfU_TP: {say:.18, trump:.85, state:.22, president:.65, russia:.2, house:.65, republican:.15, clinton:.2, election:.5, senate:.65, unite:.35, court:.15, new:.85, white:.3, washington:.15, vote:.7, government:.7, russian:.35, tell:.85, tax:.6, campaign:.5, donald:.2, people:.35, north:.5, year:.35, korea:.15, obama:.35, presidential:.5, party:.5, group:.35, security:.7, committee:.7, china:.5, make:.9, official:.9, police:.9, wednesday:.7, years:.9},
    tfF_TP: {russia:.88, russian:.7, committee:.95, moscow:.3, appeal:.45, request:.45, deny:.2, chairman:.55, challenge:.5, adviser:.35, probe:.9, panel:.3, mattis:.5, ukraine:.5, israeli:.3, lawyer:.2, senators:.5, kremlin:.3, pentagon:.35, assad:.9, vladimir:.3, cyber:.2, palestinian:.3, contact:.9, pakistan:.3, resolution:.5, confirmation:.5, communications:.5, islamist:.75, rebel:.9, editorial:.75, schiff:.75, sap:.9, vow:.75},
    pdU_FN: {say:.55, trump:.4, state:.52, president:.3, house:.7, government:.45, party:.3, tell:.45, unite:.35, people:.15, year:.05, new:.45, make:.7, include:.15, eu:.15, republican:.7, vote:.15, percent:.35, meet:.3, obama:.5, minister:.7, china:.7, north:.3, time:.15, foreign:.7, election:.35, washington:.45, right:.5, security:.5, white:.5, report:.3, tuesday:.3, donald:.9, years:.9, plan:.75, officials:.9, military:.9, power:.9, trade:.7, leave:.7},
    pdF_FN: {minister:.1, eu:.38, european:.95, britain:.38, billion:.88, budget:.32, prime:.65, union:.5, market:.3, brexit:.7, iraq:.45, financial:.58, coalition:.45, kurdish:.5, british:.35, economy:.35, chinese:.5, london:.35, northern:.5, oil:.3, central:.15, parliament:.5, future:.5, independence:.5, approve:.15, beijing:.7, cuba:.35, ireland:.9, province:.75, cuban:.9, vietnam:.9, bloc:.9, chamber:.9, italy:.9, sector:.9, coast:.9, catalonia:.75},
    lnU_FN: {say:.5, trump:.65, state:.18, president:.45, government:.2, republican:.45, party:.15, house:.9, people:.2, make:.3, new:.65, tell:.5, obama:.35, meet:.3, include:.65, unite:.9, year:.45, washington:.45, north:.2, vote:.3, china:.15, minister:.35, percent:.7, time:.3, eu:.5, election:.5, security:.5, tax:.9, white:.9, right:.65, group:.65, democratic:.9, national:.9, force:.9, early:.9, fund:.7, official:.7, years:.7, wednesday:.7},
    lnF_FN: {minister:.5, eu:.55, european:.12, britain:.5, leaders:.65, border:.92, billion:.45, union:.5, prime:.15, bank:.6, budget:.75, saudi:.88, brexit:.92, market:.15, region:.5, coalition:.85, crisis:.2, agree:.5, kurdish:.2, financial:.2, member:.35, measure:.6, iraq:.5, independence:.2, chinese:.9, northern:.9, approve:.9, progress:.9, europe:.7, ireland:.9, capital:.5},
    tfU_FN: {say:.72, trump:.88, state:.85, house:.5, president:.7, government:.35, republican:.45, party:.15, north:.5, white:.5, china:.5, unite:.5, new:.2, korea:.15, meet:.1, vote:.9, minister:.5, eu:.5, senate:.7, obama:.5, year:.7, tax:.7, percent:.9, tell:.35, people:.2, make:.2, security:.3, election:.35, washington:.5, deal:.35, thursday:.9, report:.9, plan:.9, source:.7, official:.9, attack:.9, fund:.9, statement:.7},
    tfF_FN: {eu:.5, britain:.22, brexit:.28, european:.5, budget:.2, billion:.58, prime:.2, independence:.65, kurdish:.5, region:.3, union:.45, iraq:.2, british:.45, london:.5, spain:.3, puerto:.7, iraqi:.3, financial:.9, macron:.15, coalition:.6, catalan:.5, cuba:.6, oil:.3, rico:.5, debt:.65, central:.9, northern:.7, catalonia:.7, approve:.65, ireland:.9, prince:.9, progress:.7, theresa:.9, vietnam:.9, cuban:.9, yemen:.7},
    pdU_FP: {trump:.7, say:.58, president:.88, people:.5, make:.32, state:.1, obama:.12, clinton:.5, donald:.2, like:.3, time:.92, know:.5, new:.5, image:.2, news:.7, hillary:.2, white:.7, think:.3, tell:.3, campaign:.9, report:.65, come:.15, twitter:.15, house:.3, right:.3, work:.35, black:.6, want:.3, live:.3, video:.3, america:.35, vote:.7, election:.5, american:.9, political:.35, use:.9, look:.9, country:.9, leave:.7, claim:.5},
    pdF_FP: {image:.68, twitter:.82, fbi:.72, post:.32, fox:.05, featured:.15, cnn:.65, tweet:.5, story:.9, '2017':.3, realdonaldtrump:.3, write:.45, getty:.15, record:.55, facebook:.5, fake:.35, june:.3, january:.7, george:.5, terrorist:.35, terrorists:.15, december:.35, isis:.35, wikileaks:.15, racism:.15, enforcement:.5, sexual:.9, true:.7, jam:.7, leak:.7, mention:.7, victims:.7, page:.9, christian:.9, friend:.9, mr:.1, admit:.15, '29':.9, '11':.9, hire:.9, propaganda:.9, crimes:.9, regard:.9, eye:.9, '21wire':.75, reilly:.75, hollywood:.75},
    lnU_FP: {trump:.4, say:.55, president:.12, make:.65, people:.2, state:.25, obama:.62, clinton:.7, like:.7, donald:.65, time:.3, know:.7, new:.3, hillary:.5, right:.2, tell:.75, report:.9, white:.5, news:.15, think:.7, house:.3, image:.5, come:.5, republican:.9, media:.2, campaign:.3, black:.3, claim:.3, attack:.3, look:.3, work:.7, good:.3, years:.7, vote:.7, election:.65, group:.65, want:.7, year:.15, twitter:.5, video:.7, american:.7, need:.15, unite:.3, way:.15, post:.5, story:.7},
    lnF_FP: {post:.88, featured:.3, tweet:.45, realdonaldtrump:.85, getty:.5, facebook:.9, january:.55, fake:.3, mr:.3, '21st':.3, december:.15, century:.3, february:.5, '11':.5, sexual:.15, terrorists:.15, leak:.15, spic:.3, wikileaks:.2, hill:.15, '24':.5, supposedly:.3, subscribe:.65, politico:.45, conway:.15, propaganda:.15, holder:.9, whine:.9, weinstein:.9, smith:.7, benghazi:.7, definitely:.7, perfectly:.7, eric:.5, hire:.5},
    tfU_FP: {trump:.72, say:.25, president:.93, obama:.28, hillary:.3, clinton:.45, video:.65, people:.5, donald:.5, state:.15, white:.7, make:.3, like:.45, time:.3, black:.9, tell:.7, america:.3, watch:.35, house:.35, right:.3, american:.3, twitter:.2, image:.3, campaign:.2, election:.3, vote:.5, know:.3, come:.3, news:.2, media:.5, new:.7, live:.7, think:.5, republican:.3, report:.7, fox:.15, fbi:.9, gun:.5},
    tfF_FP: {trump:.75, clinton:.92, obama:.88, hillary:.75, people:.3, donald:.58, make:.85, like:.5, news:.55, time:.7, black:.5, image:.2, media:.5, right:.7, know:.3, twitter:.15, think:.3, want:.5, america:.65, come:.5, fbi:.3, look:.5, cnn:.5, fox:.5, live:.5, leave:.35, use:.35, americans:.35, post:.35, claim:.5, women:.35, good:.7, american:.5, gop:.5, point:.9, man:.9, lie:.9, world:.7, question:.15, job:.5, ask:.15}
};

const cloudWords = {
    pdU_TN: words_pdU_TN, pdF_TN: words_pdF_TN, lnU_TN: words_lnU_TN, lnF_TN: words_lnF_TN, tfU_TN: words_tfU_TN, tfF_TN: words_tfF_TN,
    pdU_TP: words_pdU_TP, pdF_TP: words_pdF_TP, lnU_TP: words_lnU_TP, lnF_TP: words_lnF_TP, tfU_TP: words_tfU_TP, tfF_TP: words_tfF_TP,
    pdU_FN: words_pdU_FN, pdF_FN: words_pdF_FN, lnU_FN: words_lnU_FN, lnF_FN: words_lnF_FN, tfU_FN: words_tfU_FN, tfF_FN: words_tfF_FN,
    pdU_FP: words_pdU_FP, pdF_FP: words_pdF_FP, lnU_FP: words_lnU_FP, lnF_FP: words_lnF_FP, tfU_FP: words_tfU_FP, tfF_FP: words_tfF_FP
};
const cloudWeights = {
    pdU_TN: weights_pdU_TN, pdF_TN: weights_pdF_TN, lnU_TN: weights_lnU_TN, lnF_TN: weights_lnF_TN, tfU_TN: weights_tfU_TN, tfF_TN: weights_tfF_TN,
    pdU_TP: weights_pdU_TP, pdF_TP: weights_pdF_TP, lnU_TP: weights_lnU_TP, lnF_TP: weights_lnF_TP, tfU_TP: weights_tfU_TP, tfF_TP: weights_tfF_TP,
    pdU_FN: weights_pdU_FN, pdF_FN: weights_pdF_FN, lnU_FN: weights_lnU_FN, lnF_FN: weights_lnF_FN, tfU_FN: weights_tfU_FN, tfF_FN: weights_tfF_FN,
    pdU_FP: weights_pdU_FP, pdF_FP: weights_pdF_FP, lnU_FP: weights_lnU_FP, lnF_FP: weights_lnF_FP, tfU_FP: weights_tfU_FP, tfF_FP: weights_tfF_FP
};

// ---- geometry ----
const PW = 486, PH = 243;
const COL_X0 = 10, COL_STEP = 498;
const ROW_Y0 = 193, ROW_STEP = 450;
const TITLE_GAP = 27;
const WORD_FONT = '"DejaVu Sans Mono", monospace';

const VIRIDIS = ['#440154', '#482475', '#414487', '#355f8d', '#2a788e', '#21918c',
    '#22a884', '#44bf70', '#7ad151', '#bddf26', '#fde725'];

function viridis(t) {
    t = Math.max(0, Math.min(1, t));
    const f = t * (VIRIDIS.length - 1);
    const i = Math.min(VIRIDIS.length - 2, Math.floor(f));
    const u = f - i;
    const a = VIRIDIS[i], b = VIRIDIS[i + 1];
    const ch = (s, k) => parseInt(s.substr(1 + 2 * k, 2), 16);
    const mix = k => Math.round(ch(a, k) + (ch(b, k) - ch(a, k)) * u);
    return `rgb(${mix(0)},${mix(1)},${mix(2)})`;
}

function hash(s) {
    let h = 2166136261;
    for (let i = 0; i < s.length; i++) {
        h ^= s.charCodeAt(i);
        h = Math.imul(h, 16777619);
    }
    return h >>> 0;
}

// largest word goes to the middle, every other word to the free box nearest a
// word-derived spot; a word is shrunk step by step when nothing fits
function layoutCloud(key) {
    const words = cloudWords[key], weights = cloudWeights[key];
    const ups = new Set(uprightWords[key] || []);
    const tint = wordTints[key] || {};
    const G = 2, gw = Math.floor(PW / G), gh = Math.floor(PH / G);
    const cv = document.createElement('canvas');
    cv.width = gw; cv.height = gh;
    const c = cv.getContext('2d', { willReadFrequently: true });
    c.fillStyle = '#000';
    const occ = new Uint8Array(gw * gh);
    const W1 = gw + 1;
    const integ = new Int32Array(W1 * (gh + 1));
    const rebuild = () => {
        for (let y = 0; y < gh; y++) {
            let run = 0;
            for (let x = 0; x < gw; x++) {
                run += occ[y * gw + x];
                integ[(y + 1) * W1 + x + 1] = integ[y * W1 + x + 1] + run;
            }
        }
    };
    const isFree = (x, y, bw, bh) =>
        integ[(y + bh) * W1 + x + bw] - integ[y * W1 + x + bw] - integ[(y + bh) * W1 + x] + integ[y * W1 + x] === 0;

    const n = Math.min(words.length, weights.length);
    const order = [...Array(n).keys()].sort((a, b) => weights[b] - weights[a]);
    const out = [];
    order.forEach((i, rank) => {
        const word = words[i];
        const up = ups.has(word);
        const h = hash(key + ':' + word);
        const tx = rank === 0 ? gw / 2 : ((h % 997) / 996) * gw;
        const ty = rank === 0 ? gh / 2 : (((h >>> 11) % 991) / 990) * gh;
        let size = weights[i] * PH / 243;
        while (size >= 5) {
            c.font = (size / G) + 'px ' + WORD_FONT;
            const m = c.measureText(word);
            const L = m.actualBoundingBoxLeft, R = m.actualBoundingBoxRight;
            const A = m.actualBoundingBoxAscent, D = m.actualBoundingBoxDescent;
            const tw = Math.ceil(L + R) + 1, th = Math.ceil(A + D) + 1;
            const bw = up ? th : tw, bh = up ? tw : th;
            const nx = gw - bw + 1, ny = gh - bh + 1;
            let bx = -1, by = -1, best = Infinity;
            for (let y = 0; y < ny; y++) {
                const dy = (y + bh / 2 - ty) * 2;
                for (let x = 0; x < nx; x++) {
                    const dx = x + bw / 2 - tx;
                    const d = dx * dx + dy * dy;
                    if (d < best && isFree(x, y, bw, bh)) { best = d; bx = x; by = y; }
                }
            }
            if (bx >= 0) {
                const ox = up ? bx + 0.5 + A : bx + 0.5 + L;
                const oy = up ? by + 0.5 + R : by + 0.5 + A;
                c.save();
                c.translate(ox, oy);
                if (up) c.rotate(-Math.PI / 2);
                c.fillText(word, 0, 0);
                c.restore();
                const img = c.getImageData(bx, by, bw, bh).data;
                for (let yy = 0; yy < bh; yy++) {
                    for (let xx = 0; xx < bw; xx++) {
                        if (img[(yy * bw + xx) * 4 + 3] > 0) occ[(by + yy) * gw + bx + xx] = 1;
                    }
                }
                rebuild();
                const shade = tint[word] ?? (hash(word + '#' + key) % 1000) / 999;
                out.push({ x: ox * G, y: oy * G, word, size, up, color: viridis(shade) });
                return;
            }
            size *= 0.92;
        }
    });
    return out;
}

// draws the words at the pixel positions Chart.js computed for each point
const wordPainter = {
    id: 'wordPainter',
    afterDatasetsDraw(chart) {
        const ds = chart.data.datasets[0].data;
        const meta = chart.getDatasetMeta(0);
        const xs = chart.scales.x;
        const k = (xs.getPixelForValue(PW) - xs.getPixelForValue(0)) / PW;
        const ctx = chart.ctx;
        ctx.save();
        ctx.textAlign = 'left';
        ctx.textBaseline = 'alphabetic';
        meta.data.forEach((el, i) => {
            const p = ds[i];
            ctx.save();
            ctx.translate(el.x, el.y);
            if (p.up) ctx.rotate(-Math.PI / 2);
            ctx.font = (p.size * k) + 'px ' + WORD_FONT;
            ctx.fillStyle = p.color;
            ctx.fillText(p.word, 0, 0);
            ctx.restore();
        });
        ctx.restore();
    }
};

const grid = document.getElementById('grid');
outcomes.forEach((outcome, r) => {
    let col = 0;
    methods.forEach(([mName, mKey]) => {
        variants.forEach(([vName, vKey]) => {
            const key = mKey + vKey + '_' + outcome;
            const left = COL_X0 + col * COL_STEP;
            const top = ROW_Y0 + r * ROW_STEP;

            const title = document.createElement('div');
            title.className = 'panel-title';
            title.style.left = left + 'px';
            title.style.width = PW + 'px';
            title.style.top = (top - TITLE_GAP) + 'px';
            title.textContent = `${mName} ${vName} ${outcome}`;
            grid.appendChild(title);

            const box = document.createElement('div');
            box.className = 'panel';
            box.style.left = left + 'px';
            box.style.top = top + 'px';
            box.style.width = PW + 'px';
            box.style.height = PH + 'px';
            const canvas = document.createElement('canvas');
            box.appendChild(canvas);
            grid.appendChild(box);
            col++;

            const placed = layoutCloud(key);
            new Chart(canvas, {
                type: 'scatter',
                data: {
                    datasets: [{
                        data: placed,
                        pointRadius: 0,
                        pointHoverRadius: 0,
                        borderWidth: 0
                    }]
                },
                options: {
                    responsive: true,
                    maintainAspectRatio: false,
                    animation: false,
                    events: [],
                    layout: { padding: 0 },
                    plugins: {
                        legend: { display: false },
                        tooltip: { enabled: false },
                        title: { display: false }
                    },
                    scales: {
                        x: { type: 'linear', min: 0, max: PW, display: false },
                        y: { type: 'linear', min: 0, max: PH, reverse: true, display: false }
                    }
                },
                plugins: [wordPainter]
            });
        });
    });
});
</script>
</body>
</html>
